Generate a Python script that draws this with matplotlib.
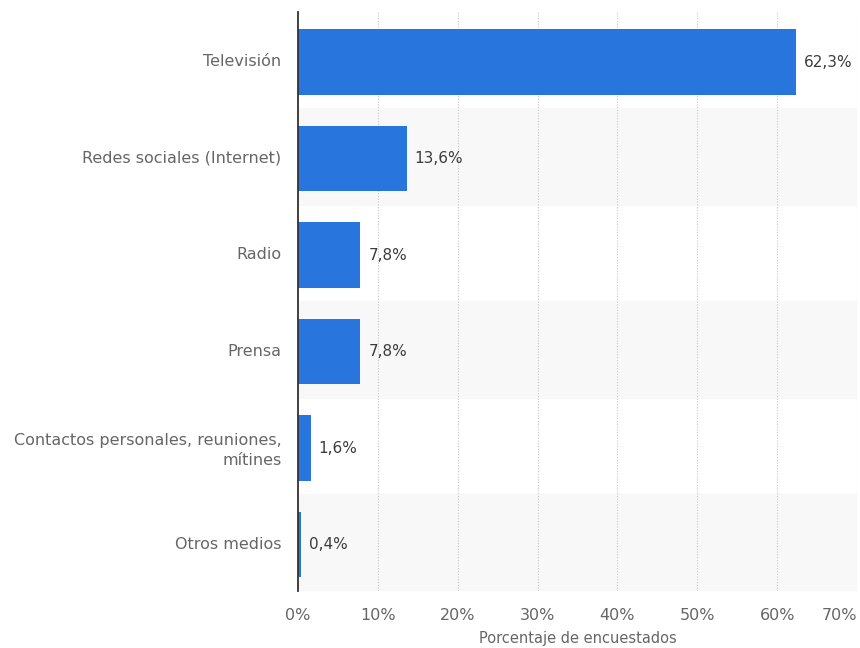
import numpy as np
import matplotlib.pyplot as plt
from matplotlib.ticker import FuncFormatter

categorias = ["Televisión", "Redes sociales (Internet)", "Radio", "Prensa",
              "Contactos personales, reuniones,\nmítines", "Otros medios"]
valores = [62.3, 13.6, 7.8, 7.8, 1.6, 0.4]
ticks_x = [0, 10, 20, 30, 40, 50, 60, 70]

azul = "#2876dd"
gris_texto = "#666666"

plt.rcParams['font.family'] = ['DejaVu Sans']

fig = plt.figure(figsize=(8.6, 6.48), dpi=100)
ax = fig.add_axes([0.3465, 0.088, 0.65, 0.8935])

y = np.arange(len(categorias))

# franjas alternas de fondo
for i in y:
    if i % 2 == 1:
        ax.axhspan(i - 0.5, i + 0.5, color="#f8f8f8", zorder=0)

ax.barh(y + 0.02, valores, height=0.68, color=azul, zorder=3)

for yi, v in zip(y, valores):
    ax.text(v + 1.0, yi + 0.02, f"{v:.1f}%".replace(".", ","), va="center", ha="left",
            fontsize=11, color="#3c3c3c", zorder=4)

ax.set_xlim(0, 70)
ax.set_ylim(len(categorias) - 0.5, -0.5)
ax.set_xticks(ticks_x)
ax.xaxis.set_major_formatter(FuncFormatter(lambda x, p: f"{x:.0f}%"))
ax.set_yticks(y)
ax.set_yticklabels(categorias, ha="right", multialignment="right", linespacing=1.45)

ax.grid(axis="x", color="#c8c8c8", linestyle=(0, (1, 1.5)), linewidth=0.8, zorder=1)
ax.set_axisbelow(True)

for s in ["top", "right", "bottom"]:
    ax.spines[s].set_visible(False)
ax.spines["left"].set_color("#333333")
ax.spines["left"].set_linewidth(1.3)
ax.spines["left"].set_zorder(5)

ax.tick_params(axis="both", length=0, labelsize=11.5, labelcolor=gris_texto)
ax.tick_params(axis="y", pad=12)
ax.tick_params(axis="x", pad=12)

# la última etiqueta se alinea a la derecha para que no se corte
ax.get_xticklabels()[-1].set_horizontalalignment("right")

ax.set_xlabel("Porcentaje de encuestados", fontsize=10.5, color=gris_texto, labelpad=6)

fig.savefig("out.png", dpi=100)
